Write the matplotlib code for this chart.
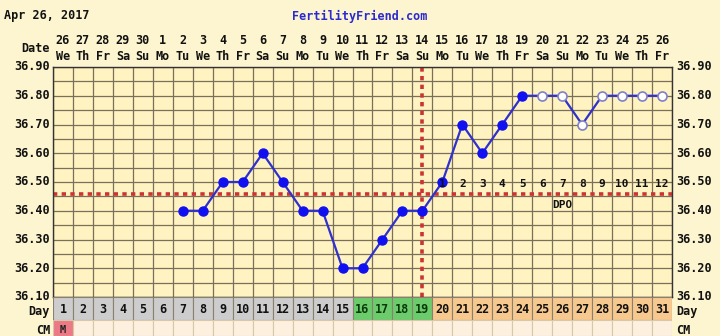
import matplotlib
matplotlib.use('Agg')
import matplotlib.pyplot as plt
import matplotlib.transforms as mtransforms
import numpy as np

# cycle data
days = list(range(1, 32))
dates = ['26', '27', '28', '29', '30', '1', '2', '3', '4', '5', '6', '7', '8',
         '9', '10', '11', '12', '13', '14', '15', '16', '17', '18', '19', '20',
         '21', '22', '23', '24', '25', '26']
weekdays = ['We', 'Th', 'Fr', 'Sa', 'Su', 'Mo', 'Tu', 'We', 'Th', 'Fr', 'Sa',
            'Su', 'Mo', 'Tu', 'We', 'Th', 'Fr', 'Sa', 'Su', 'Mo', 'Tu', 'We',
            'Th', 'Fr', 'Sa', 'Su', 'Mo', 'Tu', 'We', 'Th', 'Fr']
temp_days = [7, 8, 9, 10, 11, 12, 13, 14, 15, 16, 17, 18, 19, 20, 21, 22, 23,
             24, 25, 26, 27, 28, 29, 30, 31]
temps = [36.40, 36.40, 36.50, 36.50, 36.60, 36.50, 36.40, 36.40, 36.20, 36.20,
         36.30, 36.40, 36.40, 36.50, 36.70, 36.60, 36.70, 36.80, 36.80, 36.80,
         36.70, 36.80, 36.80, 36.80, 36.80]
# True = recorded temp, False = open circle
recorded = [True] * 18 + [False] * 7
phase = ['pre'] * 15 + ['fertile'] * 4 + ['post'] * 12
cm = ['M'] + [''] * 30
coverline = 36.46
ovulation_day = 19
dpo_days = list(range(20, 32))
dpo_labels = [str(i) for i in range(1, 13)]
ytick_vals = [36.10, 36.20, 36.30, 36.40, 36.50, 36.60, 36.70, 36.80, 36.90]

W, H = 720, 336
bg = '#fdf5cf'
cell_bg = '#fff3c2'
grid_c = '#7a705a'
mono = 'DejaVu Sans Mono'

fig = plt.figure(figsize=(W / 100, H / 100), dpi=100, facecolor=bg)

def fx(px):
    return px / W

def fy(py):
    return 1 - py / H

left, right, top, bot = 53, 672, 67, 297
ax = fig.add_axes([fx(left), fy(bot), fx(right - left), (bot - top) / H])
ax.set_facecolor(cell_bg)
ax.set_xlim(0.5, 31.5)
ax.set_ylim(36.10, 36.90)

# grid
for x in np.arange(0.5, 32, 1.0):
    ax.axvline(x, color=grid_c, lw=0.9, zorder=1)
for y in np.arange(36.10, 36.91, 0.05):
    ax.axhline(y, color=grid_c, lw=0.9, zorder=1)
for s in ax.spines.values():
    s.set_color('#333333')
    s.set_linewidth(1.0)
ax.set_xticks([])
ax.set_yticks([])

# coverline and ovulation line
ax.axhline(coverline, color='#cc3333', lw=2.6, ls=(0, (1.2, 1.2)), zorder=2)
ax.axvline(ovulation_day, color='#cc3333', lw=2.6, ls=(0, (1.2, 1.2)), zorder=2)

# temperature line
ax.plot(temp_days, temps, color='#3030cc', lw=1.6, zorder=3)
td = np.array(temp_days)
tv = np.array(temps)
rec = np.array(recorded)
ax.plot(td[rec], tv[rec], 'o', color='#1010f0', ms=6.5, zorder=4)
ax.plot(td[~rec], tv[~rec], 'o', mfc='white', mec='#8080c8', mew=1.2,
        ms=6.5, zorder=4)

# DPO labels
for d, lab in zip(dpo_days, dpo_labels):
    ax.text(d, 36.493, lab, ha='center', va='center', family=mono,
            fontweight='bold', fontsize=8, color='#111111', zorder=5)
ax.text(26, 36.42, 'DPO', ha='center', va='center', family=mono,
        fontweight='bold', fontsize=8, color='#111111', zorder=5)

# temperature labels
for v in ytick_vals:
    y = fy(top + (36.90 - v) / 0.80 * (bot - top))
    fig.text(fx(50), y, '%.2f' % v, ha='right', va='center', family=mono,
             fontweight='bold', fontsize=8.5, color='#111111')
    fig.text(fx(676), y, '%.2f' % v, ha='left', va='center', family=mono,
             fontweight='bold', fontsize=8.5, color='#111111')

# date header
trans = mtransforms.blended_transform_factory(ax.transData, fig.transFigure)
for d, dt, wd in zip(days, dates, weekdays):
    ax.text(d, fy(41), dt, transform=trans, ha='center', va='center',
            family=mono, fontweight='bold', fontsize=8.5, color='#111111')
    ax.text(d, fy(56), wd, transform=trans, ha='center', va='center',
            family=mono, fontweight='bold', fontsize=8.5, color='#111111')
fig.text(fx(50), fy(48), 'Date', ha='right', va='center', family=mono,
         fontweight='bold', fontsize=8.5, color='#111111')

# title texts
fig.text(fx(4), fy(15), 'Apr 26, 2017', ha='left', va='center', family=mono,
         fontweight='bold', fontsize=8.5, color='#111111')
fig.text(fx(360), fy(16), 'FertilityFriend.com', ha='center', va='center',
         family=mono, fontweight='bold', fontsize=8.5, color='#2a2ad0')

# day / cm rows
axb = fig.add_axes([fx(left), 0, fx(right - left), (H - bot) / H])
axb.set_xlim(0.5, 31.5)
axb.set_ylim(H - bot, 0)
axb.axis('off')
phase_colors = {'pre': '#cdcdcd', 'fertile': '#6ccc6c', 'post': '#f8c98e'}
phase_text = {'pre': '#111111', 'fertile': '#0a3a0a', 'post': '#111111'}
row_h = 23
axb.bar(days, row_h, bottom=0, width=1, color=[phase_colors[p] for p in phase],
        edgecolor='#8a8070', lw=0.8)
axb.bar(days, H - bot - row_h, bottom=row_h, width=1,
        color=['#ec7a86' if c else '#fdf0de' for c in cm],
        edgecolor='#d8c8a8', lw=0.8)
for d, p, c in zip(days, phase, cm):
    axb.text(d, row_h / 2 + 1, str(d), ha='center', va='center', family=mono,
             fontweight='bold', fontsize=8.5, color=phase_text[p])
    if c:
        axb.text(d, row_h + 10, c, ha='center', va='center', family=mono,
                 fontweight='bold', fontsize=7.5, color='#222222')
fig.text(fx(50), fy(312), 'Day', ha='right', va='center', family=mono,
         fontweight='bold', fontsize=8.5, color='#111111')
fig.text(fx(676), fy(312), 'Day', ha='left', va='center', family=mono,
         fontweight='bold', fontsize=8.5, color='#111111')
fig.text(fx(50), fy(330), 'CM', ha='right', va='center', family=mono,
         fontweight='bold', fontsize=8.5, color='#111111')
fig.text(fx(676), fy(330), 'CM', ha='left', va='center', family=mono,
         fontweight='bold', fontsize=8.5, color='#111111')

fig.savefig('out.png', dpi=100, facecolor=bg)
